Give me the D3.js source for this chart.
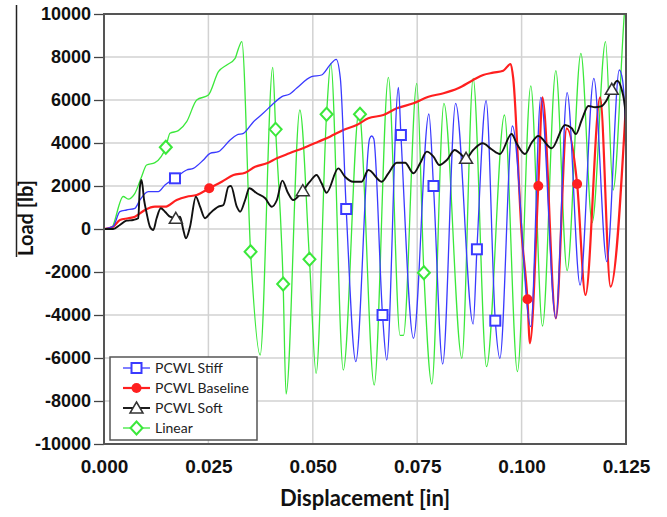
<!DOCTYPE html>
<html lang="en">
<head>
<meta charset="UTF-8">
<title>Load vs Displacement</title>
<script src="https://cdn.jsdelivr.net/npm/d3@7/dist/d3.min.js"></script>
<style>
html,body{margin:0;padding:0;background:#fff}
svg{display:block;font-family:Lato,"Open Sans",sans-serif}
.grid line{stroke:#d2d2d2;stroke-width:1.5}
.y-axis text{font-size:18px;font-weight:700;fill:#111}
.x-axis text{font-size:19px;font-weight:700;fill:#111}
.y-axis line{stroke:#444;stroke-width:1.3}
.axis-title{font-weight:700;fill:#111}
.series{fill:none;stroke-linejoin:round}
.legend text{font-size:14px;fill:#222}
</style>
</head>
<body>
<svg id="chart" width="667" height="517"></svg>
<script>
// ── Data (displacement [in], load [lb]) ──
var xTicks = [0, 0.025, 0.05, 0.075, 0.1, 0.125];
var yTicks = [-10000, -8000, -6000, -4000, -2000, 0, 2000, 4000, 6000, 8000, 10000];
var seriesNames = ['PCWL Stiff', 'PCWL Baseline', 'PCWL Soft', 'Linear'];

var stiffLine = [[0,0],[.0022,124],[.0038,805],[.0054,884],[.0074,962],[.0086,1349],[.0106,1736],[.0130,1736],
  [.0146,2047],[.0198,2744],[.0214,2822],[.0238,3209],[.0254,3519],[.0274,3597],[.0302,4140],[.0318,4372],
  [.0334,4450],[.0358,4992],[.0381,5380],[.0402,5767],[.0426,6155],[.0445,6279],[.0461,6544],[.0497,7085],
  [.0521,7163],[.0541,7628],[.0556,7893],[.0566,7000],[.0603,-6170],[.0636,4200],[.0641,4326],[.0646,4200],
  [.0677,-6093],[.0705,6591],[.0741,-5085],[.0778,5349],[.0811,-6279],[.0842,5847],[.0884,-4419],[.0915,5967],
  [.0948,-6016],[.0978,4791],[.1022,-4543],[.1046,6126],[.1082,-4155],[.1109,6343],[.1140,-2605],[.1173,7008],
  [.1204,-1519],[.1234,7395],[.1242,6900],[.125,4600]];
var stiffMarks = [[.0170,2357],[.0580,930],[.0667,-4000],[.0711,4372],[.0789,2000],[.0893,-944],[.0937,-4264]];

var baseLine = [[0,0],[.0022,100],[.0038,419],[.0058,500],[.0074,570],[.0098,884],[.0122,1037],[.0146,1037],
  [.0174,1349],[.0198,1502],[.0222,1581],[.0282,2200],[.0310,2512],[.0338,2619],[.0362,2898],[.0390,3056],
  [.0414,3288],[.0444,3521],[.0485,3828],[.0513,4060],[.0541,4293],[.0573,4605],[.0605,4837],[.0633,5149],
  [.0669,5302],[.0701,5614],[.0741,5847],[.0777,6153],[.0813,6312],[.0848,6544],[.0884,6930],[.0908,7163],
  [.0932,7270],[.0956,7363],[.0974,7674],[.0980,7000],[.1000,-186],[.1020,-5316],[.1050,6126],[.1082,-4155],
  [.1108,4684],[.1153,-3070],[.1188,6126],[.1213,-2683],[.125,5850]];
var baseMarks = [[.0252,1893],[.1014,-3270],[.1040,2000],[.1133,2093]];

var softLine = [[0,0],[.0022,0],[.0038,186],[.0054,388],[.0070,419],[.0082,500],[.0086,1969],[.0090,2279],
  [.0096,1349],[.0102,744],[.0110,107],[.0118,-46],[.0126,498],[.0136,963],[.0146,805],[.0158,572],[.0182,572],
  [.0190,-46],[.0196,-433],[.0206,107],[.0220,1502],[.0230,1037],[.0242,498],[.0254,730],[.0274,1037],
  [.0286,1116],[.0298,1967],[.0304,2000],[.0318,1037],[.0326,805],[.0338,1349],[.0348,1893],[.0366,1660],
  [.0386,1428],[.0402,1037],[.0414,1349],[.0427,2250],[.0440,1700],[.0453,1349],[.0493,2200],[.0509,2512],
  [.0521,2126],[.0533,1688],[.0561,2822],[.0577,2433],[.0597,2200],[.0617,2200],[.0633,2744],[.0665,2200],
  [.0681,2591],[.0701,3084],[.0721,3084],[.0741,2591],[.0757,3056],[.0773,3597],[.0789,3363],[.0803,2977],
  [.0821,3209],[.0840,3674],[.0852,3519],[.0884,3674],[.0907,3986],[.0928,3707],[.0948,3488],[.0976,4419],
  [.0988,3986],[.1008,3488],[.1024,4014],[.1040,4326],[.1072,3753],[.1104,4837],[.1120,4684],[.1130,4419],
  [.1144,5070],[.1160,5721],[.1176,5660],[.1190,5700],[.1204,6000],[.1229,6898],[.1240,6465],[.1248,5535],
  [.125,3600]];
var softMarks = [[.0172,498],[.0476,1781],[.0867,3288],[.1216,6498]];

var linearLine = [[0,0],[.0016,0],[.0046,1512],[.0058,1390],[.0074,1660],[.0090,2433],[.0102,2977],[.0122,3084],
  [.0158,4450],[.0178,4574],[.0198,4992],[.0222,6000],[.0250,6233],[.0274,7316],[.0294,7628],[.0314,7938],
  [.0322,8400],[.0330,8714],[.0374,-5860],[.0404,7520],[.0436,-7674],[.0469,5535],[.0508,-6712],[.0543,7707],
  [.0573,-6558],[.0611,5535],[.0647,-7256],[.0681,7056],[.0709,-4950],[.0717,-4950],[.0749,6777],[.0785,-7209],
  [.0814,5847],[.0857,-6016],[.0884,7008],[.0916,-6403],[.0959,5302],[.0990,-6636],[.1022,6653],[.1050,-4512],
  [.1082,7366],[.1109,-1940],[.1142,8172],[.1169,300],[.1201,8714],[.1219,1814],[.1246,10000],[.125,11000]];
var linearMarks = [[.0148,3800],[.0351,-1056],[.0411,4637],[.0429,-2558],[.0492,-1409],[.0533,5335],[.0613,5335],[.0766,-2033]];

// ── Setup ──
var svg = d3.select('#chart');
var x = d3.scaleLinear().domain([0, 0.125]).range([104, 626]);
var y = d3.scaleLinear().domain([-10000, 10000]).range([444, 14]);

function merged(line, marks) {
  return line.concat(marks).sort(function(a, b) { return a[0] - b[0]; });
}

var series = [
  { name: seriesNames[3], pts: merged(linearLine, linearMarks), marks: linearMarks, color: '#3be83b', width: 1.3, shape: 'diamond' },
  { name: seriesNames[1], pts: merged(baseLine, baseMarks), marks: baseMarks, color: '#ff1f1f', width: 2.2, shape: 'circle' },
  { name: seriesNames[0], pts: merged(stiffLine, stiffMarks), marks: stiffMarks, color: '#3a3aff', width: 1.3, shape: 'square' },
  { name: seriesNames[2], pts: merged(softLine, softMarks), marks: softMarks, color: '#111', width: 1.9, shape: 'triangle' }
];

// grid
var grid = svg.append('g').attr('class', 'grid');
grid.selectAll('.gx').data(xTicks).join('line')
  .attr('x1', function(d) { return x(d); }).attr('x2', function(d) { return x(d); })
  .attr('y1', y(10000)).attr('y2', y(-10000));
grid.selectAll('.gy').data(yTicks).join('line')
  .attr('x1', x(0)).attr('x2', x(0.125))
  .attr('y1', function(d) { return y(d); }).attr('y2', function(d) { return y(d); });

// axes
var yAxis = svg.append('g').attr('class', 'y-axis').attr('transform', 'translate(104,0)')
  .call(d3.axisLeft(y).tickValues(yTicks).tickSize(10).tickPadding(3).tickFormat(function(d) { return String(d); }));
yAxis.select('.domain').remove();

var xAxis = svg.append('g').attr('class', 'x-axis').attr('transform', 'translate(0,444)')
  .call(d3.axisBottom(x).tickValues(xTicks).tickSize(0).tickPadding(16).tickFormat(d3.format('.3f')));
xAxis.select('.domain').remove();

// clip
svg.append('clipPath').attr('id', 'plotClip').append('rect')
  .attr('x', 104).attr('y', 14).attr('width', 522).attr('height', 430);

var line = d3.line()
  .x(function(d) { return x(d[0]); })
  .y(function(d) { return y(d[1]); })
  .curve(d3.curveMonotoneX);

var plot = svg.append('g').attr('clip-path', 'url(#plotClip)');
plot.selectAll('.series').data(series).join('path')
  .attr('class', 'series')
  .attr('d', function(d) { return line(d.pts); })
  .attr('stroke', function(d) { return d.color; })
  .attr('stroke-width', function(d) { return d.width; });

function drawMarker(g, shape, color) {
  if (shape === 'square') {
    g.append('rect').attr('x', -5).attr('y', -5).attr('width', 10).attr('height', 10)
      .attr('fill', '#fff').attr('stroke', color).attr('stroke-width', 2);
  } else if (shape === 'circle') {
    g.append('circle').attr('r', 5).attr('fill', color);
  } else if (shape === 'triangle') {
    g.append('path').attr('d', 'M0,-6L6.5,5L-6.5,5Z')
      .attr('fill', '#fff').attr('stroke', '#333').attr('stroke-width', 1.5);
  } else {
    g.append('path').attr('d', 'M0,-6.5L6,0L0,6.5L-6,0Z')
      .attr('fill', '#fff').attr('stroke', color).attr('stroke-width', 2);
  }
}

series.forEach(function(s) {
  plot.selectAll(null).data(s.marks).join('g')
    .attr('transform', function(d) { return 'translate(' + x(d[0]) + ',' + y(d[1]) + ')'; })
    .each(function() { drawMarker(d3.select(this), s.shape, s.color); });
});

// frame
svg.append('rect').attr('x', 104).attr('y', 14).attr('width', 522).attr('height', 430)
  .attr('fill', 'none').attr('stroke', '#555').attr('stroke-width', 2);

// titles
svg.append('text').attr('class', 'axis-title')
  .attr('x', 365).attr('y', 506).attr('text-anchor', 'middle').style('font-size', '22px')
  .text('Displacement [in]');
svg.append('text').attr('class', 'axis-title')
  .attr('transform', 'translate(33,218) rotate(-90)').attr('text-anchor', 'middle').style('font-size', '20px')
  .text('Load [lb]');
svg.append('line').attr('x1', 16.5).attr('x2', 16.5).attr('y1', 5).attr('y2', 257)
  .attr('stroke', '#222').attr('stroke-width', 1.5);

// legend
var legendOrder = [series[2], series[1], series[3], series[0]];
var legend = svg.append('g').attr('class', 'legend');
legend.append('rect').attr('x', 110).attr('y', 357).attr('width', 147).attr('height', 83)
  .attr('fill', '#fff').attr('stroke', '#555').attr('stroke-width', 1.5);
var rowY = d3.scalePoint().domain(seriesNames).range([368, 428]);
legendOrder.forEach(function(s) {
  var ly = rowY(s.name);
  legend.append('line').attr('x1', 123).attr('x2', 150).attr('y1', ly).attr('y2', ly)
    .attr('stroke', s.color).attr('stroke-width', s.width);
  drawMarker(legend.append('g').attr('transform', 'translate(136.5,' + ly + ')'), s.shape, s.color);
  legend.append('text').attr('x', 155).attr('y', ly).attr('dy', '0.35em').text(s.name);
});
</script>
</body>
</html>
